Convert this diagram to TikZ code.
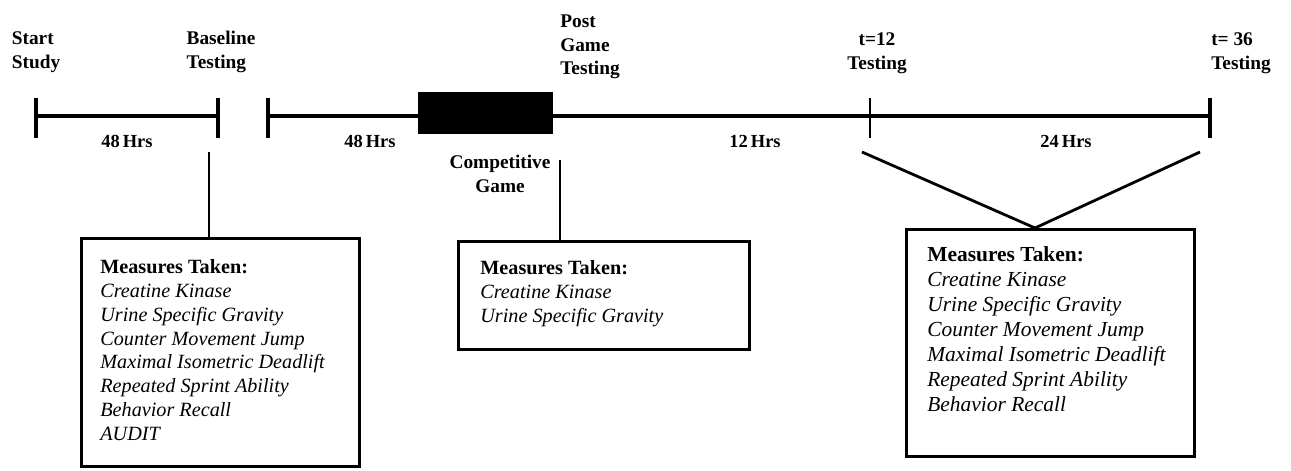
\documentclass[tikz,border=0pt]{standalone}
\usepackage{fontspec}
\setmainfont{Liberation Serif}
\usetikzlibrary{positioning}

\begin{document}
\begin{tikzpicture}[x=0.02cm, y=-0.02cm,
  stamp/.style={font=\bfseries\fontsize{11}{13.5}\selectfont, align=left, inner sep=0pt},
  hours/.style={font=\bfseries\fontsize{10.5}{12}\selectfont, inner sep=0pt},
  timeline/.style={line width=2.8pt},
  tickmark/.style={line width=2.4pt},
  link/.style={line width=1.6pt},
  measbox/.style={draw, line width=1.7pt, anchor=north west, inner sep=0pt},
  measlist/.style={font=\fontsize{11.5}{13.6}\selectfont, align=left, anchor=north west, inner sep=0pt}
]
  \useasboundingbox (0,0) rectangle (1291,470);

  \coordinate (start) at (36,116);
  \coordinate (base) at (218,116);
  \coordinate (resume) at (268,116);
  \coordinate (t12) at (870,116);
  \coordinate (t36) at (1210,116);

  \draw[timeline] (start) -- (base);
  \draw[timeline] (resume) -- (t36);
  \draw[tickmark] (start) ++(0,-18) -- ++(0,40);
  \draw[tickmark] (base) ++(0,-18) -- ++(0,40);
  \draw[tickmark] (resume) ++(0,-18) -- ++(0,40);
  \draw[tickmark, line width=1.6pt] (t12) ++(0,-18) -- ++(0,40);
  \draw[tickmark, line width=2.8pt] (t36) ++(0,-18) -- ++(0,40);
  \node[fill, draw, inner sep=0pt, minimum width=2.68cm, minimum height=0.82cm] (game) at (485,112.5) {};

  \node[stamp] (startlbl) at (36,52) {Start\\Study};
  \node[stamp] (baselbl) at (221,52) {Baseline\\Testing};
  \node[stamp] (postlbl) at (590,47) {Post\\Game\\Testing};
  \node[stamp, align=center] (t12lbl) at (877,53) {t=12\\Testing};
  \node[stamp] (t36lbl) at (1241,53) {t= 36\\Testing};
  \node[stamp, align=center] (gamelbl) at (500,174) {Competitive\\Game};

  \node[hours] (h1) at (127,141) {48\,Hrs};
  \node[hours] (h2) at (370,141) {48\,Hrs};
  \node[hours] (h3) at (755,141) {12\,Hrs};
  \node[hours] (h4) at (1066,141) {24\,Hrs};

  \node[measbox, minimum width=5.56cm, minimum height=4.56cm] (box1) at (80,237) {};
  \node[measlist] (list1) at (100,259) {{\bfseries Measures Taken:}\\ \itshape Creatine Kinase\\ \itshape Urine Specific Gravity\\ \itshape Counter Movement Jump\\ \itshape Maximal Isometric Deadlift\\ \itshape Repeated Sprint Ability\\ \itshape Behavior Recall\\ \itshape AUDIT};

  \node[measbox, minimum width=5.82cm, minimum height=2.16cm] (box2) at (457,240) {};
  \node[measlist] (list2) at (480,260) {{\bfseries Measures Taken:}\\ \itshape Creatine Kinase\\ \itshape Urine Specific Gravity};

  \node[measbox, minimum width=5.76cm, minimum height=4.54cm] (box3) at (905,228) {};
  \node[measlist, font=\fontsize{12.2}{14.3}\selectfont] (list3) at (927,246) {{\bfseries Measures Taken:}\\ \itshape Creatine Kinase\\ \itshape Urine Specific Gravity\\ \itshape Counter Movement Jump\\ \itshape Maximal Isometric Deadlift\\ \itshape Repeated Sprint Ability\\ \itshape Behavior Recall};

  \coordinate (drop1) at (209,152);
  \coordinate (drop2) at (560,160);
  \coordinate (fromt12) at (862,152);
  \coordinate (fromt36) at (1200,152);
  \coordinate (meet) at (1035,228);

  \draw[link] (drop1) -- (box1.north -| drop1);
  \draw[link] (drop2) -- (box2.north -| drop2);
  \draw[link] (fromt12) -- (meet) -- (fromt36);
\end{tikzpicture}
\end{document}
